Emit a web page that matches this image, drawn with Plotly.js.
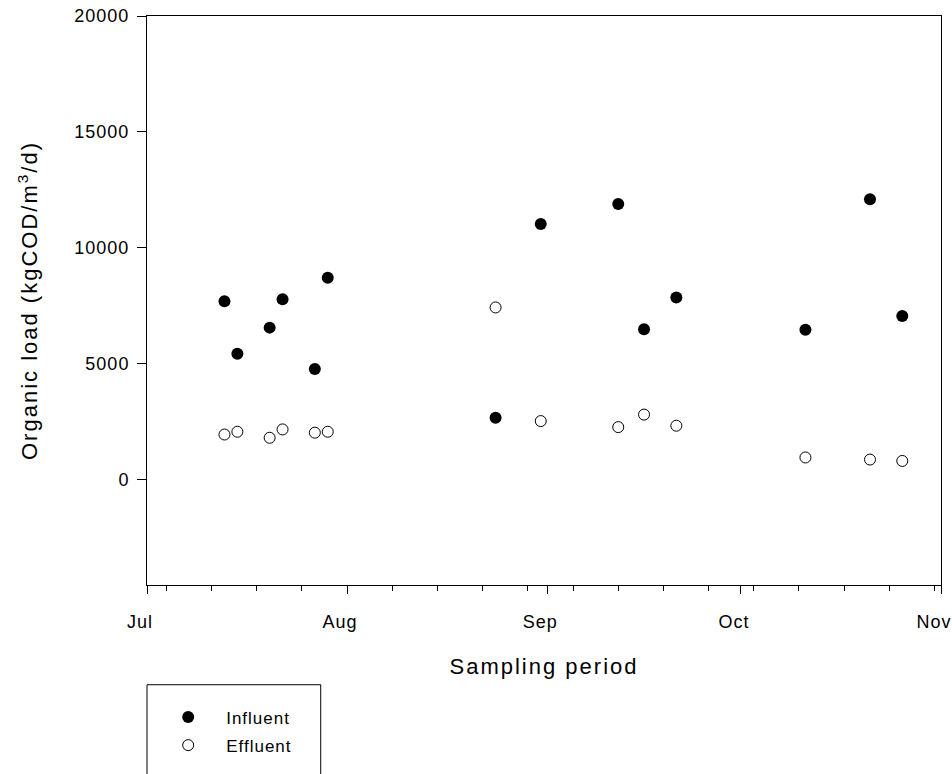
<!DOCTYPE html>
<html>
<head>
<meta charset="utf-8">
<script src="https://cdn.plot.ly/plotly-3.0.1.min.js"></script>
<style>
  html, body { margin: 0; padding: 0; background: #ffffff; }
  #chart { width: 952px; height: 774px; }
  .xtick text, .ytick text { letter-spacing: 1px; }
  .g-xtitle text, .g-ytitle text { letter-spacing: 2px; }
  .legendtext { letter-spacing: 1px; }
</style>
</head>
<body>
<div id="chart"></div>
<script>
// Sampling dates (2004)
const dates = ['2004-07-13','2004-07-15','2004-07-20','2004-07-22','2004-07-27','2004-07-29',
               '2004-08-24','2004-08-31','2004-09-12','2004-09-16','2004-09-21',
               '2004-10-11','2004-10-21','2004-10-26'];
// Organic load, kgCOD/m3/d
const influent = [7700, 5430, 6560, 7780, 4780, 8710, 2670, 11030, 11890, 6490, 7860, 6470, 12100, 7060];
const effluent = [1950, 2070, 1810, 2170, 2030, 2070, 7430, 2530, 2270, 2810, 2330, 960, 870, 810];
const seriesNames = ['Influent', 'Effluent'];
const yTickVals = [0, 5000, 10000, 15000, 20000];

const FONT = 'Liberation Sans, Arial, sans-serif';

const traces = [
  {
    x: dates, y: influent, name: seriesNames[0], type: 'scatter', mode: 'markers',
    legendgroup: 'a',
    marker: { symbol: 'circle', size: 12, color: '#000000' }
  },
  {
    x: dates, y: effluent, name: seriesNames[1], type: 'scatter', mode: 'markers',
    legendgroup: 'b',
    marker: { symbol: 'circle-open', size: 11, color: '#000000', line: { width: 1, color: '#000000' } }
  }
];

const layout = {
  width: 952, height: 774,
  margin: { l: 147, r: 11, t: 16, b: 186 },
  paper_bgcolor: '#ffffff', plot_bgcolor: '#ffffff',
  font: { family: FONT, color: '#000000', size: 18 },
  showlegend: true,
  xaxis: {
    type: 'date',
    range: ['2004-07-01', '2004-11-01'],
    dtick: 'M1', tick0: '2004-07-01', tickformat: '%b',
    ticks: 'outside', ticklen: 8, tickwidth: 1, tickcolor: '#000000',
    ticklabelshift: -7, ticklabelstandoff: 12,
    tickfont: { family: FONT, size: 18, color: '#000000' },
    minor: { ticks: 'outside', ticklen: 5, tickwidth: 1, tickcolor: '#000000',
             dtick: 7 * 86400000, tick0: '2004-07-04', showgrid: false },
    showline: true, linecolor: '#000000', linewidth: 1, mirror: true,
    showgrid: false, zeroline: false, automargin: false,
    title: { text: 'Sampling period', font: { family: FONT, size: 22, color: '#000000' }, standoff: 28 }
  },
  yaxis: {
    range: [-4540, 20000],
    tickvals: yTickVals, ticktext: yTickVals.map(String),
    ticks: 'outside', ticklen: 9, tickwidth: 1, tickcolor: '#000000',
    ticklabelstandoff: 4,
    tickfont: { family: FONT, size: 18, color: '#000000' },
    showline: true, linecolor: '#000000', linewidth: 1, mirror: true,
    showgrid: false, zeroline: false, automargin: false,
    title: { text: 'Organic load (kgCOD/m<sup>3</sup>/d)', font: { family: FONT, size: 22, color: '#000000' }, standoff: 30 }
  },
  legend: {
    x: 0.004, xanchor: 'left', y: -0.2012, yanchor: 'top',
    bgcolor: 'rgba(0,0,0,0)', borderwidth: 0,
    itemwidth: 66, tracegroupgap: 3, traceorder: 'grouped',
    font: { family: FONT, size: 17, color: '#000000' }
  },
  shapes: [
    { type: 'rect', xref: 'paper', yref: 'paper', x0: 0, x1: 0.2188, y0: -0.1753, y1: -0.345,
      line: { color: '#000000', width: 1 }, fillcolor: 'rgba(0,0,0,0)' }
  ]
};

Plotly.newPlot('chart', traces, layout, { displayModeBar: false, staticPlot: true });
</script>
</body>
</html>
